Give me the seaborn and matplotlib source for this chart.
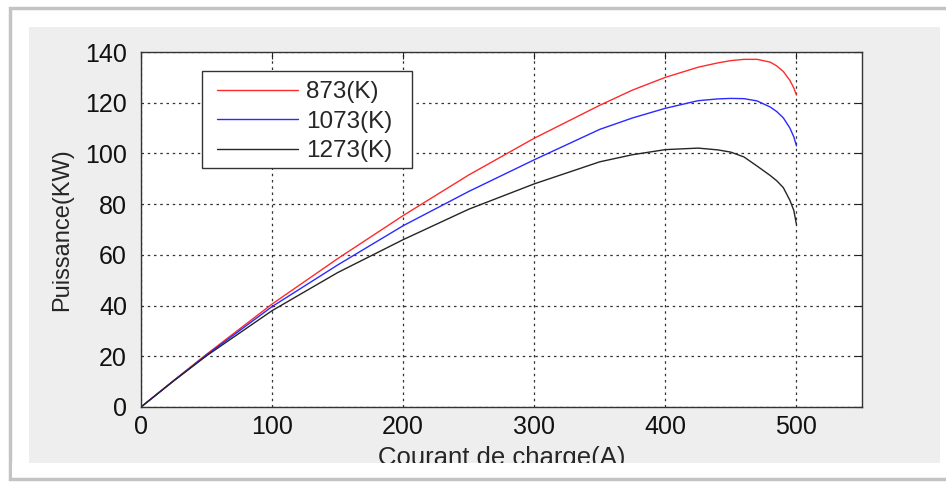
import matplotlib
matplotlib.use("Agg")
import matplotlib.pyplot as plt
import seaborn as sns
import pandas as pd
from matplotlib.patches import Rectangle

# ---- data ----
courant = [0, 25, 50, 100, 150, 200, 250, 300, 350, 375, 400, 425, 440, 450, 460, 470,
           480, 485, 490, 495, 498, 500]
p_873 = [0, 10.5, 20.8, 40.6, 58.5, 75.5, 91.5, 106, 119, 125, 130, 134, 135.7, 136.6, 137.1, 137.1,
         136, 134.5, 132.3, 128.8, 125.8, 123]
p_1073 = [0, 10.4, 20.5, 39.6, 56, 71.5, 85, 97.5, 109.5, 114, 117.8, 120.8, 121.5, 121.7, 121.6, 120.7,
          118.3, 116.5, 114, 110, 106.5, 103]
p_1273 = [0, 10.3, 20.2, 38, 53, 66, 78, 88, 96.7, 99.5, 101.5, 102.1, 101.4, 100.5, 98.6, 95,
          91.3, 89.2, 86.5, 81.5, 77.5, 72]
labels = ["873(K)", "1073(K)", "1273(K)"]
colors = ["#ff2a2a", "#2a2aff", "#252525"]

frames = []
for lab, vals in zip(labels, [p_873, p_1073, p_1273]):
    frames.append(pd.DataFrame({"I": courant, "P": vals, "T": lab}))
df = pd.concat(frames, ignore_index=True)

sns.set_style("white")
plt.rcParams["font.family"] = ["Liberation Sans", "DejaVu Sans"]

W, H = 946, 482
fig = plt.figure(figsize=(W / 100, H / 100), dpi=100)
fig.patch.set_facecolor("white")

# outer frame with shadow
fig.patches.append(Rectangle((10 / W, 3 / H), 1.0, 471 / H, transform=fig.transFigure,
                             facecolor="white", edgecolor="#c4c4c4", linewidth=2.5, zorder=-3))
# grey panel
fig.patches.append(Rectangle((29 / W, (H - 463) / H), 911 / W, 436 / H, transform=fig.transFigure,
                             facecolor="#eeeeee", edgecolor="none", zorder=-2))

AX_L, AX_T, AX_W, AX_H = 141, 52, 721, 355
ax = fig.add_axes([AX_L / W, (H - AX_T - AX_H) / H, AX_W / W, AX_H / H])
ax.set_facecolor("white")

sns.lineplot(data=df, x="I", y="P", hue="T", palette=dict(zip(labels, colors)),
             linewidth=1.0, ax=ax, legend=True)

ax.set_xlim(0, 550)
ax.set_ylim(0, 140)
ax.set_xticks([0, 100, 200, 300, 400, 500])
ax.set_yticks(range(0, 141, 20))
ax.grid(True, color="#333333", linestyle=(0, (2, 3)), linewidth=0.9)
ax.tick_params(direction="in", length=5, width=0.8, top=True, right=True,
               labelsize=18, colors="#222222", labelcolor="#111111")
ax.tick_params(axis="x", pad=6)
ax.tick_params(axis="y", pad=10)
for s in ax.spines.values():
    s.set_color("#333333")
    s.set_linewidth(1.0)
    s.set_visible(True)

ax.set_xlabel("Courant de charge(A)", fontsize=18.5, labelpad=5)
ax.set_ylabel("Puissance(KW)", fontsize=17, labelpad=9)

# legend: box drawn as a rectangle, entries without their own frame
def ax_x(px):
    return (px - AX_L) / AX_W

def ax_y(py):
    return (AX_T + AX_H - py) / AX_H

ax.add_patch(Rectangle((ax_x(202), ax_y(168)), ax_x(412) - ax_x(202), ax_y(71) - ax_y(168),
                       transform=ax.transAxes, facecolor="white", edgecolor="#333333",
                       linewidth=1.0, zorder=5))
leg = ax.legend(loc="upper left", bbox_to_anchor=(ax_x(217), ax_y(81)),
                borderaxespad=0, fontsize=17.5, frameon=False,
                handlelength=3.35, labelspacing=0.31, handletextpad=0.33,
                borderpad=0, title=None)
leg.set_zorder(6)

# white band covering bottom of panel (clips x label like reference)
fig.patches.append(Rectangle((12 / W, 5 / H), 1.0, 14 / H, transform=fig.transFigure,
                             facecolor="white", edgecolor="none", zorder=10))

fig.savefig("out.png", dpi=100, facecolor="white")
